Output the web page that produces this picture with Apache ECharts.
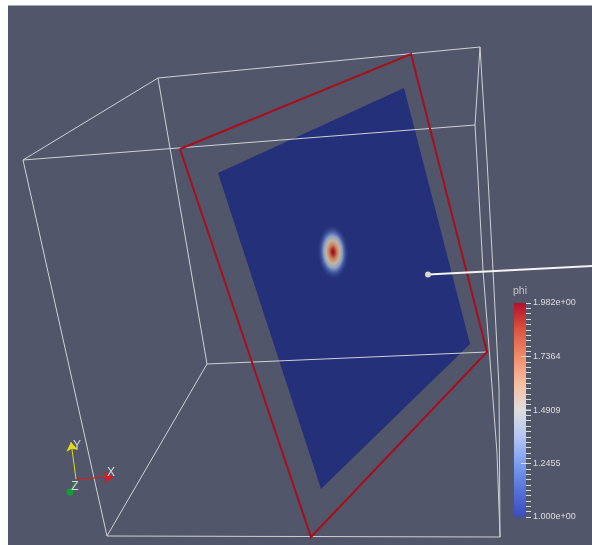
<!DOCTYPE html>
<html>
<head>
<meta charset="utf-8">
<title>phi</title>
<style>
  html, body { margin: 0; padding: 0; background: #fff; }
  #main { width: 592px; height: 545px; }
</style>
<script src="https://cdn.jsdelivr.net/npm/echarts@6/dist/echarts.min.js"></script>
</head>
<body>
<div id="main"></div>
<script>
var panel = [[8, 5.5], [592, 545]];
var boxEdges = [
  [[23, 160], [158, 78]],
  [[158, 78], [480, 47]],
  [[23, 160], [475, 125]],
  [[475, 125], [480, 47]],
  [[23, 160], [107, 536]],
  [[158, 78], [207, 364]],
  [[207, 364], [487, 352]],
  [[207, 364], [107, 536]],
  [[107, 536], [500, 537]],
  [[480, 47], [487, 160], [493, 270], [499, 387], [500, 537]],
  [[475, 125], [477, 160], [483, 270], [490, 360], [497, 453], [500, 537]]
];
var redOutline = [[180, 149], [411, 54], [487, 352], [311, 537], [180, 149]];
var plane = [[218, 173], [404, 88], [470, 344], [321, 489]];
var probeLine = [[428, 274.5], [592, 266]];
var blob = [333, 252];
var axisX = [[76, 479], [113, 477]];
var axisY = [[76, 479], [71, 442]];
var axisZ = [[76, 479], [70, 492]];
var axisNames = ['X', 'Y', 'Z'];
var axisNamePos = [[111, 473], [77, 446], [75, 487]];

var phiMin = 1.0;
var phiMax = 1.982;
var tickValues = [1.0, 1.2455, 1.4909, 1.7364, 1.982];
var tickLabels = ['1.000e+00', '1.2455', '1.4909', '1.7364', '1.982e+00'];
var longTicks = [1.2455, 1.4909, 1.7364];

var bg = '#52566b';
var planeColor = '#24307a';
var textColor = '#dddddd';
// position 0 = top of bar (phi max)
var barOffsets = [0, 0.12, 0.25, 0.38, 0.5, 0.62, 0.75, 0.88, 1];
var barColors = ['#b40f2a', '#d9523f', '#f08c68', '#f8bfa0', '#dddddd', '#b4c8f2', '#7d9df0', '#5470d8', '#3b4cc0'];
var blobOffsets = [0, 0.1, 0.26, 0.42, 0.58, 0.76, 1];
var blobColors = ['#8e1020', '#a82a2a', '#cb8460', '#c2b69c', '#8c9fc8', 'rgba(72,94,168,0.7)', 'rgba(36,48,122,0)'];

var option = {
  animation: false,
  backgroundColor: '#fff',
  textStyle: { fontFamily: 'Liberation Sans' },
  grid: [
    { left: 0, top: 0, right: 0, bottom: 0 },
    { left: 514, top: 303, width: 12, height: 214 },
    { left: 526, top: 303, width: 5, height: 214 }
  ],
  xAxis: [
    { gridIndex: 0, type: 'value', min: 0, max: 592, show: false },
    { gridIndex: 1, type: 'value', min: 0, max: 12, show: false },
    { gridIndex: 2, type: 'value', min: 0, max: 5, show: false }
  ],
  yAxis: [
    { gridIndex: 0, type: 'value', min: 0, max: 545, inverse: true, show: false },
    {
      gridIndex: 1, type: 'value', position: 'right', min: phiMin, max: phiMax, z: 10,
      axisLine: { show: false },
      splitLine: { show: false },
      axisTick: { show: false },
      axisLabel: {
        show: true, margin: 7, color: textColor, fontSize: 9, fontFamily: 'Liberation Sans',
        customValues: tickValues, showMinLabel: true, showMaxLabel: true,
        formatter: function (v) { return tickLabels[tickValues.indexOf(v)]; }
      }
    },
    {
      // small ticks only, sit just right of the colour bar
      gridIndex: 2, type: 'value', position: 'right', min: phiMin, max: phiMax, interval: (phiMax - phiMin) / 40, z: 10,
      axisLine: { show: false },
      splitLine: { show: false },
      axisLabel: { show: false },
      axisTick: { show: true, inside: false, length: 5, lineStyle: { color: textColor, width: 1 } }
    }
  ],
  series: [
    {
      // background panel and the slice plane
      type: 'custom', coordinateSystem: 'cartesian2d', z: 1, silent: true,
      data: [0],
      renderItem: function (params, api) {
        var a = api.coord(panel[0]);
        var b = api.coord(panel[1]);
        return {
          type: 'group',
          children: [
            { type: 'rect', shape: { x: a[0], y: a[1], width: b[0] - a[0], height: b[1] - a[1] }, style: { fill: bg } },
            { type: 'polygon', shape: { points: plane.map(function (p) { return api.coord(p); }) }, style: { fill: planeColor } }
          ]
        };
      }
    },
    {
      // the hot spot
      type: 'custom', coordinateSystem: 'cartesian2d', z: 2, silent: true,
      data: [blob],
      renderItem: function (params, api) {
        var c = api.coord(blob);
        var stops = blobOffsets.map(function (o, i) { return { offset: o, color: blobColors[i] }; });
        return {
          type: 'circle', x: c[0], y: c[1], scaleY: 1.75, rotation: 0.05,
          shape: { cx: 0, cy: 0, r: 16 },
          style: { fill: new echarts.graphic.RadialGradient(0.5, 0.5, 0.5, stops) }
        };
      }
    }
  ].concat(boxEdges.map(function (edge) {
    return {
      type: 'line', data: edge, showSymbol: false, silent: true, z: 3,
      lineStyle: { color: '#cfd0d6', width: 1 }
    };
  })).concat([
    {
      type: 'line', data: redOutline, showSymbol: false, silent: true, z: 4,
      lineStyle: { color: '#a80e1c', width: 2, join: 'miter' }
    },
    {
      type: 'line', data: probeLine, showSymbol: false, silent: true, z: 4,
      lineStyle: { color: '#f4f4f4', width: 2 }
    },
    {
      type: 'scatter', data: [probeLine[0]], symbolSize: 6, silent: true, z: 5,
      itemStyle: { color: '#d8d8cc', opacity: 1 }
    },
    {
      type: 'lines', coordinateSystem: 'cartesian2d', polyline: false, silent: true, z: 5,
      symbol: ['none', 'arrow'], symbolSize: 9,
      data: [
        { coords: axisX, lineStyle: { color: '#e01818', width: 1, opacity: 1 } },
        { coords: axisY, lineStyle: { color: '#e0da18', width: 1, opacity: 1 } }
      ]
    },
    {
      type: 'line', data: axisZ, showSymbol: false, silent: true, z: 5,
      lineStyle: { color: '#12a02c', width: 1 }
    },
    {
      type: 'scatter', data: [axisZ[1]], symbolSize: 7, silent: true, z: 5,
      itemStyle: { color: '#0fa030', opacity: 1 }
    },
    {
      type: 'scatter', symbolSize: 0, silent: true, z: 6,
      data: axisNamePos.map(function (p, i) { return { value: p, name: axisNames[i] }; }),
      label: { show: true, position: 'inside', formatter: '{b}', color: '#f6f6f6', fontSize: 12, fontFamily: 'Liberation Sans' }
    },
    {
      type: 'scatter', symbolSize: 0, silent: true, z: 6,
      data: [{ value: [520, 291], name: 'phi' }],
      label: { show: true, position: 'inside', formatter: '{b}', color: textColor, fontSize: 10.5, fontFamily: 'Liberation Sans' }
    },
    {
      // colour bar
      type: 'custom', coordinateSystem: 'cartesian2d', xAxisIndex: 1, yAxisIndex: 1, z: 5, silent: true,
      data: [0],
      renderItem: function (params, api) {
        var a = api.coord([0, phiMax]);
        var b = api.coord([12, phiMin]);
        var stops = barOffsets.map(function (o, i) { return { offset: o, color: barColors[i] }; });
        return {
          type: 'rect',
          shape: { x: a[0], y: a[1], width: b[0] - a[0], height: b[1] - a[1] },
          style: { fill: new echarts.graphic.LinearGradient(0, 0, 0, 1, stops) }
        };
      }
    },
    {
      // the longer ticks cross into the colour bar
      type: 'custom', coordinateSystem: 'cartesian2d', xAxisIndex: 1, yAxisIndex: 1, z: 6, silent: true,
      data: longTicks,
      renderItem: function (params, api) {
        var a = api.coord([7, api.value(0)]);
        var b = api.coord([17, api.value(0)]);
        return {
          type: 'line',
          shape: { x1: a[0], y1: a[1], x2: b[0], y2: b[1] },
          style: { stroke: textColor, lineWidth: 1 }
        };
      }
    }
  ])
};

var myChart = echarts.init(document.getElementById('main'), null, { renderer: 'canvas' });
myChart.setOption(option);
</script>
</body>
</html>
